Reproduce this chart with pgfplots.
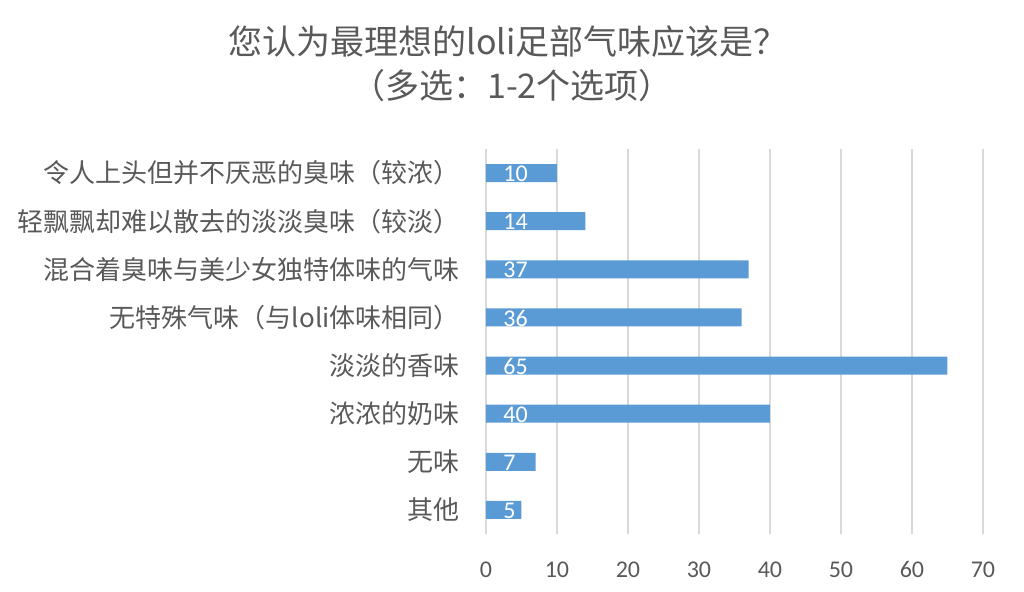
\documentclass[border=0pt]{standalone}
\usepackage{fontspec}
\setmainfont{Carlito}
\newfontfamily\cjk{Noto Sans CJK SC}
\usepackage{pgfplots}
\pgfplotsset{compat=1.18}
\definecolor{barblue}{HTML}{5B9BD5}
\definecolor{txtgray}{HTML}{595959}
\definecolor{gridgray}{HTML}{D9D9D9}
\begin{document}
\begin{tikzpicture}
\begin{axis}[
  scale only axis, width=248.5pt, height=192.5pt,
  xmin=0, xmax=70, ymin=-0.5, ymax=7.5,
  xtick={0,10,...,70},
  ytick={0,...,7},
  yticklabels={其他,无味,浓浓的奶味,淡淡的香味,无特殊气味（与loli体味相同）,混合着臭味与美少女独特体味的气味,轻飘飘却难以散去的淡淡臭味（较淡）,令人上头但并不厌恶的臭味（较浓）},
  axis line style={draw=none},
  major tick length=0pt,
  xmajorgrids, grid style={gridgray, line width=0.75pt},
  /pgf/number format/assume math mode=true,
  y tick label style={font=\cjk\fontsize{13}{15}\selectfont, text=txtgray, anchor=east, inner sep=0pt, xshift=-13pt},
  x tick label style={font=\fontsize{12}{14}\selectfont, text=txtgray, anchor=center, inner sep=0pt, yshift=-17.75pt},
]
\addplot[xbar, bar width=9pt, fill=barblue, draw=none] coordinates {(5,0) (7,1) (40,2) (65,3) (36,4) (37,5) (14,6) (10,7)};
\addplot[draw=none, nodes near coords, point meta=explicit,
  nodes near coords style={anchor=west, inner sep=0pt, xshift=8.5pt, yshift=-0.3pt, text=white, font=\fontsize{12}{14}\selectfont}]
  coordinates {(0,0) [5] (0,1) [7] (0,2) [40] (0,3) [65] (0,4) [36] (0,5) [37] (0,6) [14] (0,7) [10]};
\end{axis}
\node[font=\cjk\fontsize{17}{21}\selectfont, text=txtgray] at (11pt,246pt) {您认为最理想的loli足部气味应该是？};
\node[font=\cjk\fontsize{17}{21}\selectfont, text=txtgray] at (13pt,224pt) {（多选：1-2个选项）};
\pgfresetboundingbox
\path[use as bounding box] (-243pt,-28.5pt) rectangle (269pt,267pt);
\end{tikzpicture}
\end{document}
